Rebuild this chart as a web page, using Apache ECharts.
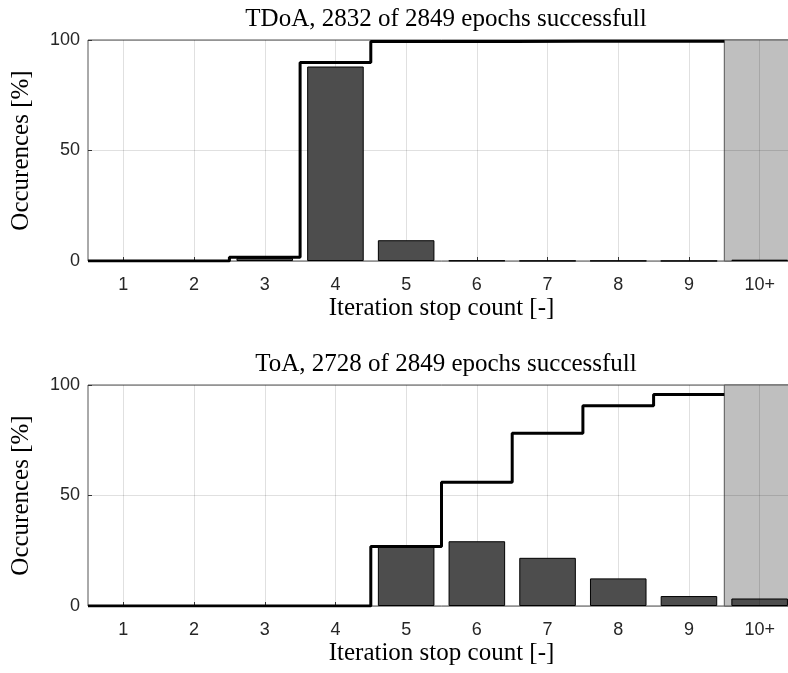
<!DOCTYPE html>
<html>
<head>
<meta charset="utf-8">
<script src="https://cdn.jsdelivr.net/npm/echarts@6/dist/echarts.min.js"></script>
<style>html,body{margin:0;padding:0;background:#fff;overflow:hidden;width:788px;height:673px}#c{width:795px;height:673px}</style>
</head>
<body>
<div id="c"></div>
<script>
const categories = ['1','2','3','4','5','6','7','8','9','10+'];
const titles = ['TDoA, 2832 of 2849 epochs successfull', 'ToA, 2728 of 2849 epochs successfull'];
const tdoaBars = [0, 0, 1.4, 88.0, 9.4, 0.2, 0.1, 0.1, 0.05, 0.6];
const tdoaCumulative = [0, 0, 1.7, 89.8, 99.3, 99.3, 99.4, 99.4, 99.4];
const toaBars = [0, 0, 0, 0, 26.8, 29.3, 21.8, 12.5, 4.5, 3.4];
const toaCumulative = [0, 0, 0, 0, 26.9, 56.0, 78.2, 90.6, 95.7];
const yTicks = [0, 50, 100];
const xName = 'Iteration stop count [-]';
const yName = 'Occurences [%]';

const serif = 'Liberation Serif';
const sans = 'Liberation Sans';
const grids = [{top: 40, height: 221}, {top: 385, height: 221}];
const barsList = [tdoaBars, toaBars];
const cumList = [tdoaCumulative, toaCumulative];
const gridColor = 'rgba(0,0,0,0.12)';

const option = {animation: false, title: [], grid: [], xAxis: [], yAxis: [], series: []};
grids.forEach((g, i) => {
  option.title.push({text: titles[i], left: 441, textAlign: 'center', top: g.top - 38,
    textStyle: {fontFamily: serif, fontSize: 25, fontWeight: 'normal', color: '#000'}});
  option.grid.push({left: 88, right: 0, top: g.top, height: g.height, show: true,
    borderColor: '#555', borderWidth: 1, backgroundColor: '#fff'});
  option.xAxis.push({type: 'category', gridIndex: i, data: categories, boundaryGap: true,
    name: xName, nameLocation: 'middle', nameGap: 35,
    nameTextStyle: {fontFamily: serif, fontSize: 25, color: '#000'},
    axisLine: {show: false},
    axisTick: {show: true, inside: true, alignWithLabel: true, length: 4, lineStyle: {color: '#333'}},
    axisLabel: {fontFamily: sans, fontSize: 18, color: '#262626', margin: 15},
    splitLine: {show: true, alignWithLabel: true, lineStyle: {color: gridColor, width: 1}}});
  option.xAxis.push({type: 'value', gridIndex: i, min: 0.5, max: 10.5, show: false});
  option.yAxis.push({type: 'value', gridIndex: i, min: 0, max: 100, interval: 50,
    name: yName, nameLocation: 'middle', nameGap: 54, nameRotate: 90,
    nameTextStyle: {fontFamily: serif, fontSize: 25, color: '#000'},
    axisLine: {show: false},
    axisTick: {show: true, inside: true, length: 4, lineStyle: {color: '#333'}},
    axisLabel: {fontFamily: sans, fontSize: 18, color: '#262626', margin: 8,
      customValues: yTicks},
    splitLine: {show: true, lineStyle: {color: gridColor, width: 1}}});
  // gray "10+" region
  option.series.push({type: 'line', xAxisIndex: 2 * i + 1, yAxisIndex: i, data: [], z: 1,
    silent: true,
    markArea: {silent: true, itemStyle: {color: '#bfbfbf', borderColor: '#555', borderWidth: 1},
      data: [[{xAxis: categories.length - 0.5, yAxis: 0}, {xAxis: categories.length + 0.5, yAxis: 100}]]},
    markLine: {silent: true, symbol: 'none', label: {show: false},
      lineStyle: {color: gridColor, width: 1, type: 'solid'},
      data: [[{coord: [categories.length, 0]}, {coord: [categories.length, 100]}],
             [{coord: [categories.length - 0.5, yTicks[1]]}, {coord: [categories.length + 0.5, yTicks[1]]}]]}});
  option.series.push({type: 'bar', xAxisIndex: 2 * i, yAxisIndex: i, data: barsList[i],
    barCategoryGap: '20%', z: 3,
    itemStyle: {color: '#4d4d4d', borderColor: '#000', borderWidth: 1}});
  const cum = cumList[i];
  const pts = [[0.5, cum[0]]].concat(cum.map((v, k) => [k + 1.5, v]));
  option.series.push({type: 'line', xAxisIndex: 2 * i + 1, yAxisIndex: i, data: pts,
    step: 'start', symbol: 'none', z: 5,
    lineStyle: {color: '#000', width: 3}});
});

const chart = echarts.init(document.getElementById('c'), null, {renderer: 'canvas'});
chart.setOption(option);
</script>
</body>
</html>
